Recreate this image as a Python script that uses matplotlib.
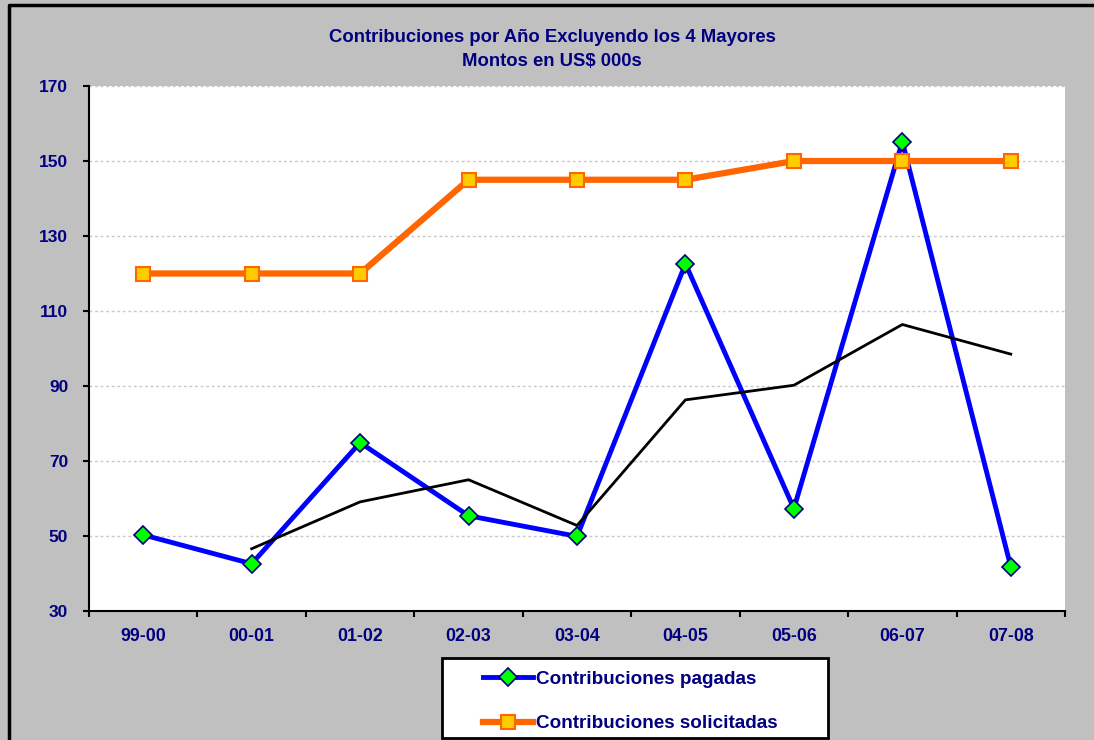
import matplotlib
matplotlib.use("Agg")
import matplotlib.pyplot as plt
from matplotlib.patches import Rectangle
from matplotlib.lines import Line2D

plt.rcParams['font.family'] = ['Liberation Sans', 'DejaVu Sans']
plt.rcParams['font.weight'] = 'bold'

# data
periods = ['99-00', '00-01', '01-02', '02-03', '03-04', '04-05', '05-06', '06-07', '07-08']
pagadas = [50.3, 42.6, 74.9, 55.4, 49.9, 122.6, 57.3, 155.2, 41.8]
solicitadas = [120, 120, 120, 145, 145, 145, 150, 150, 150]
# black trend line (2-period moving average), starts at 00-01
trend_periods = periods[1:]
trend = [46.6, 59.1, 65.0, 52.8, 86.3, 90.2, 106.4, 98.5]

navy = '#000080'
W, H = 1094, 740

fig = plt.figure(figsize=(W / 100, H / 100), dpi=100)
fig.patch.set_facecolor('#c0c0c0')
# outer chart border: only left and top edges are inside the picture
fig.add_artist(Line2D([9 / W, 9 / W, 1.0], [0.0, 1 - 5 / H, 1 - 5 / H],
                      transform=fig.transFigure, color='black', linewidth=2.5))

ax = fig.add_axes([89 / W, 1 - 611 / H, (1065 - 89) / W, (611 - 86) / H])
ax.set_facecolor('white')

x = list(range(len(periods)))
xt = list(range(1, len(periods)))

ax.plot(x, pagadas, color='#0000ff', lw=3.5, marker='D', markersize=9.5,
        markerfacecolor='#00ff00', markeredgecolor=navy, markeredgewidth=1.2,
        label='Contribuciones pagadas', zorder=3)
ax.plot(x, solicitadas, color='#ff6600', lw=4.5, marker='s', markersize=10.5,
        markerfacecolor='#ffcc00', markeredgecolor='#ff6600', markeredgewidth=1.5,
        label='Contribuciones solicitadas', zorder=4)
ax.plot(xt, trend, color='black', lw=2, label='_nolegend_', zorder=5)

ax.set_xlim(-0.5, len(periods) - 0.5)
ax.set_ylim(30, 170)
ax.set_yticks(range(30, 171, 20))
ax.yaxis.grid(True, color='#c8c8c8', linestyle=(0, (2, 2)), linewidth=1)
ax.set_axisbelow(True)

# category boundaries as major ticks, labels on minor ticks at centres
ax.set_xticks([i - 0.5 for i in range(len(periods) + 1)])
ax.set_xticklabels([])
ax.set_xticks(x, minor=True)
ax.set_xticklabels(periods, minor=True)
ax.tick_params(axis='x', which='major', length=4, width=1.5, direction='out', color='black')
ax.tick_params(axis='x', which='minor', length=0, pad=12, labelsize=12.8, labelcolor=navy)
ax.tick_params(axis='y', length=4, width=1.5, direction='out', pad=11, labelsize=12.5, labelcolor=navy)
for lab in ax.get_xticklabels(minor=True) + ax.get_yticklabels():
    lab.set_fontweight('bold')

for s in ['top', 'right']:
    ax.spines[s].set_visible(False)
for s in ['left', 'bottom']:
    ax.spines[s].set_linewidth(1.5)
    ax.spines[s].set_color('black')

fig.text(552 / W, 1 - 37 / H, 'Contribuciones por Año Excluyendo los 4 Mayores',
         ha='center', va='center', fontsize=13.3, fontweight='bold', color=navy)
fig.text(552 / W, 1 - 62 / H, 'Montos en US$ 000s',
         ha='center', va='center', fontsize=13.3, fontweight='bold', color=navy)

# legend box
fig.patches.append(Rectangle((442 / W, 1 - 738 / H), (828 - 442) / W, (738 - 658) / H,
                             transform=fig.transFigure, facecolor='white',
                             edgecolor='black', linewidth=2, zorder=1))
leg = fig.legend(loc='upper left', bbox_to_anchor=(474 / W, 1 - 661 / H), frameon=False,
                 borderpad=0, handlelength=2.6, handletextpad=0.2, labelspacing=1.45,
                 prop={'size': 13.6, 'weight': 'bold'})
for t in leg.get_texts():
    t.set_color(navy)
leg.set_zorder(2)

fig.savefig('out.png', dpi=100, facecolor=fig.get_facecolor())
